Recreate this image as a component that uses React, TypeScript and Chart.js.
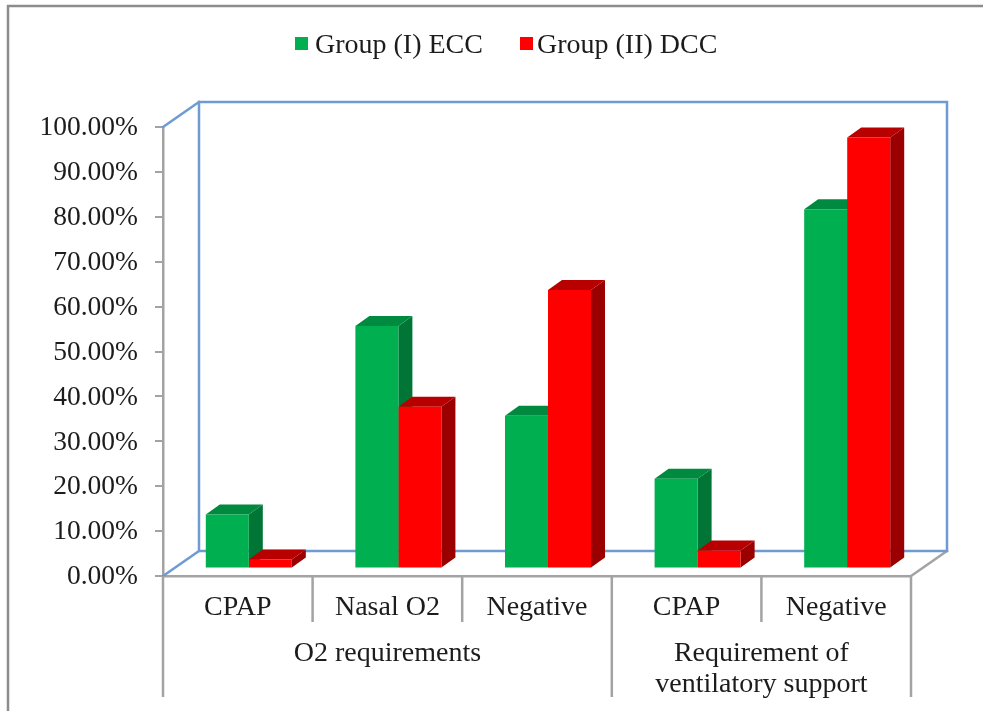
import { useEffect, useRef } from "react";
import { Chart, registerables } from "chart.js";

Chart.register(...registerables);

const categories = ["CPAP", "Nasal O2", "Negative", "CPAP", "Negative"];
const groupEcc = [12, 54, 34, 20, 80];
const groupDcc = [2, 36, 62, 4, 96];
const seriesNames = ["Group (I) ECC", "Group (II) DCC"];
const axisGroups = [
  { lines: ["O2 requirements"], from: 0, to: 3 },
  { lines: ["Requirement of", "ventilatory support"], from: 3, to: 5 },
];

const FONT = '28px "Liberation Serif"';
const INK = "#1c1c1c";
const AXIS_GREY = "#a3a3a3";
const FRAME_GREY = "#8c8c8c";
const WALL_BLUE = "#6d9bd2";
const FACES = [
  { front: "#00b050", top: "#008a3f", side: "#007535" },
  { front: "#ff0000", top: "#b80000", side: "#9a0000" },
];

// Oblique projection: the back wall offset, the bar plane offset and the bar depth.
const WALL_DX = 36;
const WALL_DY = -25;
const PLANE_DX = 11;
const PLANE_DY = -7.5;
const BAR_DX = 14;
const BAR_DY = -10;

function polygon(ctx: CanvasRenderingContext2D, pts: number[][], fill: string) {
  ctx.fillStyle = fill;
  ctx.beginPath();
  pts.forEach(([x, y], i) => (i ? ctx.lineTo(x, y) : ctx.moveTo(x, y)));
  ctx.closePath();
  ctx.fill();
}

function segment(
  ctx: CanvasRenderingContext2D,
  x1: number,
  y1: number,
  x2: number,
  y2: number,
  color: string,
  width = 2.5,
) {
  ctx.strokeStyle = color;
  ctx.lineWidth = width;
  ctx.beginPath();
  ctx.moveTo(x1, y1);
  ctx.lineTo(x2, y2);
  ctx.stroke();
}

// Draws the page frame, the box walls and the legend behind everything else.
const backdrop = {
  id: "backdrop",
  beforeDatasetsDraw(chart: any) {
    const { ctx, chartArea: a } = chart;
    ctx.save();
    segment(ctx, 8, 5, 8, 711, FRAME_GREY);
    segment(ctx, 7, 6, 983, 6, FRAME_GREY);

    ctx.lineCap = "square";
    segment(ctx, a.right, a.bottom, a.right + WALL_DX, a.bottom + WALL_DY, AXIS_GREY);
    segment(ctx, a.left, a.bottom, a.left + WALL_DX, a.bottom + WALL_DY, WALL_BLUE);
    segment(ctx, a.left, a.top, a.left + WALL_DX, a.top + WALL_DY, WALL_BLUE);
    ctx.strokeStyle = WALL_BLUE;
    ctx.lineWidth = 2.5;
    ctx.strokeRect(
      a.left + WALL_DX,
      a.top + WALL_DY,
      a.right - a.left,
      a.bottom - a.top,
    );

    ctx.font = FONT;
    ctx.textBaseline = "middle";
    ctx.textAlign = "left";
    const legendBoxes = [295, 520];
    const legendTexts = [315, 537];
    chart.data.datasets.forEach((ds: any, i: number) => {
      ctx.fillStyle = ds.backgroundColor;
      ctx.fillRect(legendBoxes[i], 37, 13, 13);
      ctx.fillStyle = INK;
      ctx.fillText(ds.label, legendTexts[i], 46);
    });
    ctx.restore();
  },
};

// Paints the top and side faces of every bar, in series order, then shifts the
// front faces onto the same plane while the library draws them.
const extrudedBars = {
  id: "extrudedBars",
  beforeDatasetsDraw(chart: any) {
    const { ctx } = chart;
    ctx.save();
    ctx.translate(PLANE_DX, PLANE_DY);
    chart.data.datasets.forEach((_: any, index: number) => {
      const faces = FACES[index];
      chart.getDatasetMeta(index).data.forEach((bar: any) => {
        const { x, y, base, width } = bar.getProps(["x", "y", "base", "width"], true);
        const l = x - width / 2;
        const r = x + width / 2;
        polygon(ctx, [[r, y], [r + BAR_DX, y + BAR_DY], [r + BAR_DX, base + BAR_DY], [r, base]], faces.side);
        polygon(ctx, [[l, y], [l + BAR_DX, y + BAR_DY], [r + BAR_DX, y + BAR_DY], [r, y]], faces.top);
      });
    });
    ctx.restore();
  },
  beforeDatasetDraw(chart: any) {
    chart.ctx.save();
    chart.ctx.translate(PLANE_DX, PLANE_DY);
  },
  afterDatasetDraw(chart: any) {
    chart.ctx.restore();
  },
};

// Draws the two-level category axis: the dividers and the group captions.
const groupedAxis = {
  id: "groupedAxis",
  afterDraw(chart: any) {
    const { ctx, chartArea: a } = chart;
    const band = (a.right - a.left) / categories.length;
    const lowerEnd = 622;
    const outerEnd = 697;
    ctx.save();
    for (let i = 1; i < categories.length; i++) {
      const isGroupEdge = axisGroups.some((g) => g.from === i);
      const x = a.left + band * i;
      segment(ctx, x, a.bottom, x, isGroupEdge ? outerEnd : lowerEnd, AXIS_GREY);
    }
    segment(ctx, a.left, a.bottom, a.left, outerEnd, AXIS_GREY);
    segment(ctx, a.right, a.bottom, a.right, outerEnd, AXIS_GREY);

    ctx.font = FONT;
    ctx.fillStyle = INK;
    ctx.textAlign = "center";
    ctx.textBaseline = "middle";
    axisGroups.forEach((g) => {
      const cx = a.left + (band * (g.from + g.to)) / 2;
      g.lines.forEach((line, i) => ctx.fillText(line, cx, 654 + i * 31));
    });
    ctx.restore();
  },
};

export default function App() {
  const ref = useRef<HTMLCanvasElement>(null);

  useEffect(() => {
    document.body.style.margin = "0";
    const chart = new Chart(ref.current!, {
      type: "bar",
      data: {
        labels: categories,
        datasets: [
          { label: seriesNames[0], data: groupEcc, backgroundColor: FACES[0].front, clip: false },
          { label: seriesNames[1], data: groupDcc, backgroundColor: FACES[1].front, clip: false },
        ],
      },
      options: {
        responsive: false,
        animation: false,
        layout: { padding: { top: 127, right: 72, left: 0, bottom: 0 } },
        plugins: { legend: { display: false }, tooltip: { enabled: false } },
        datasets: { bar: { categoryPercentage: 0.575, barPercentage: 1 } },
        scales: {
          x: {
            afterFit: (s: any) => {
              s.height = 135;
            },
            grid: { display: false },
            border: { color: AXIS_GREY, width: 2.5 },
            ticks: {
              color: INK,
              font: { family: "Liberation Serif", size: 28 },
              padding: 7,
              maxRotation: 0,
              autoSkip: false,
            },
          },
          y: {
            min: 0,
            max: 100,
            afterFit: (s: any) => {
              s.width = 163;
            },
            grid: { drawOnChartArea: false, color: AXIS_GREY, lineWidth: 2, tickLength: 8 },
            border: { color: AXIS_GREY, width: 2.5 },
            ticks: {
              stepSize: 10,
              color: INK,
              padding: 17,
              labelOffset: 1,
              font: { family: "Liberation Serif", size: 27.5 },
              callback: (v: any) => `${Number(v).toFixed(2)}%`,
            },
          },
        },
      } as any,
      plugins: [backdrop, extrudedBars, groupedAxis],
    });
    return () => chart.destroy();
  }, []);

  return (
    <canvas
      ref={ref}
      width={983}
      height={711}
      style={{ display: "block", width: 983, height: 711 }}
    />
  );
}
